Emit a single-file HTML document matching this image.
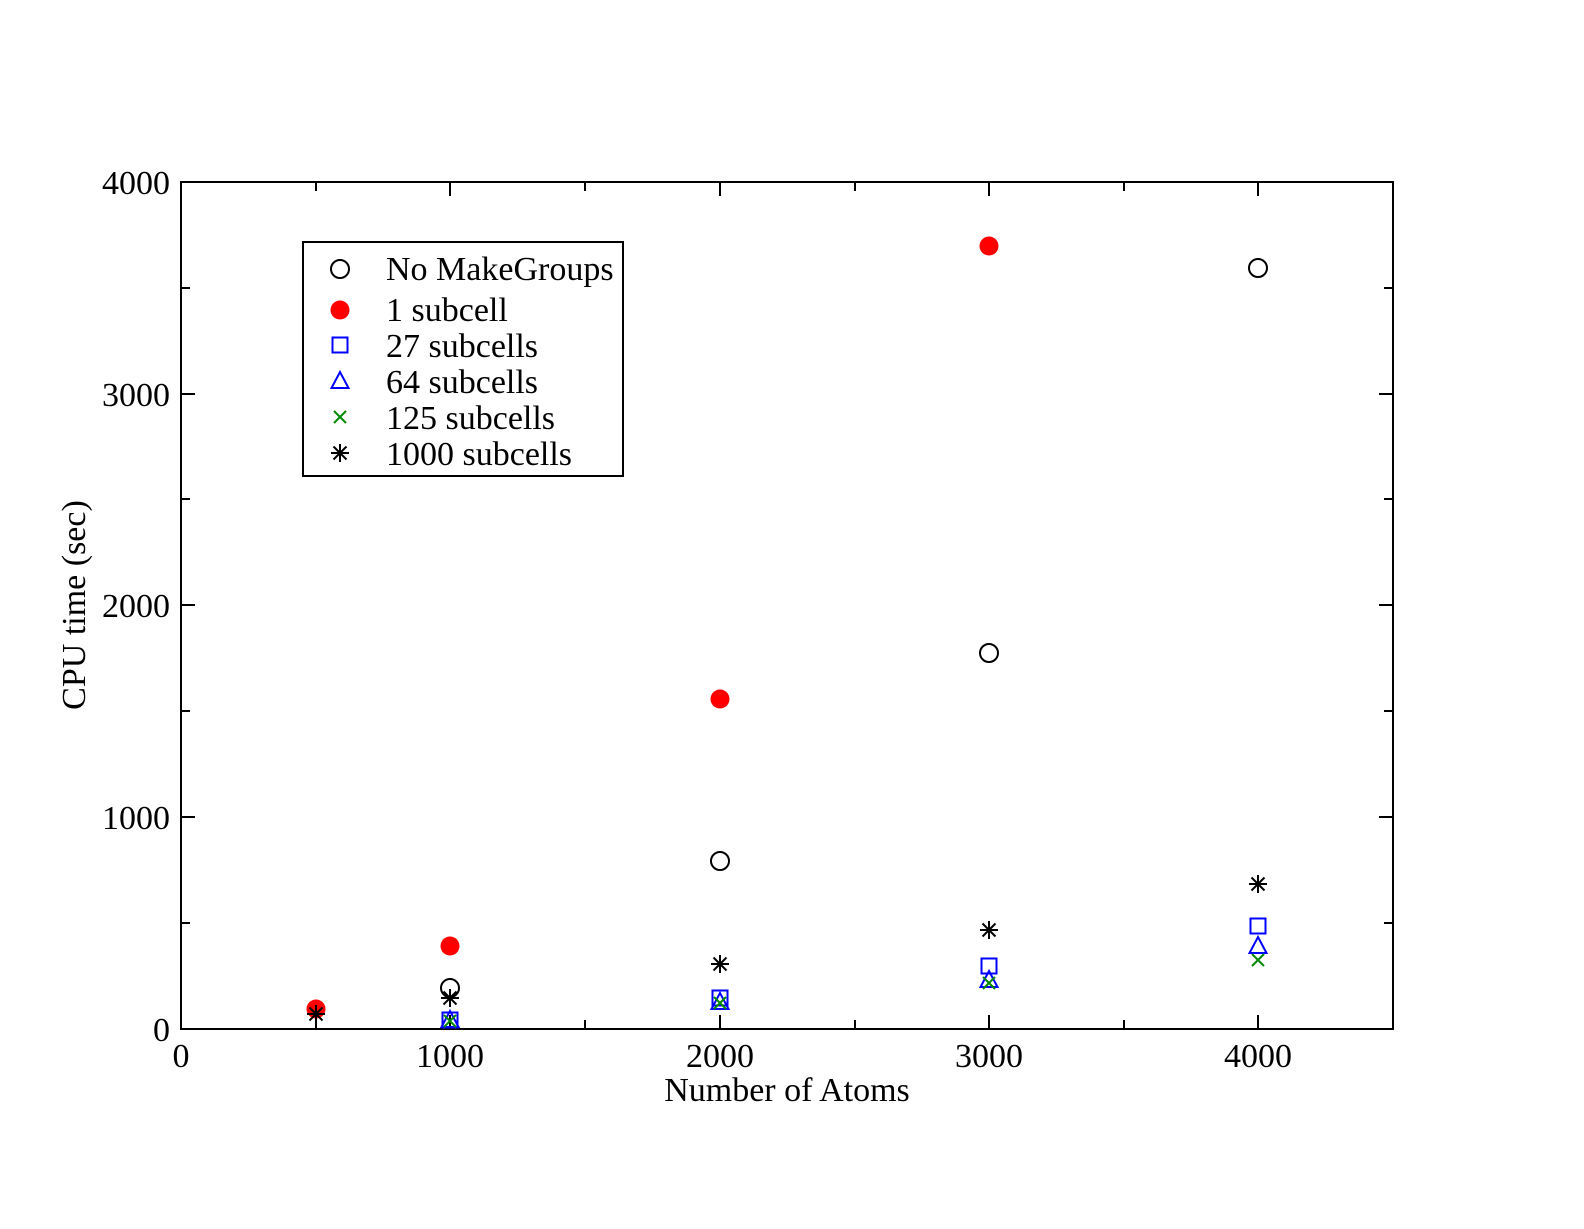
<!DOCTYPE html>
<html><head><style>body{margin:0;background:#fff}</style></head><body>
<svg width="1584" height="1224" xmlns="http://www.w3.org/2000/svg" font-family="Liberation Serif, serif" font-size="34">
<rect width="1584" height="1224" fill="#fff"/>
<rect x="181" y="182" width="1212" height="847" fill="none" stroke="#000" stroke-width="2"/>
<g stroke="#000" stroke-width="2">
<path d="M181 1029v-14M450 1029v-14M720 1029v-14M989 1029v-14M1258 1029v-14M181 182v14M450 182v14M720 182v14M989 182v14M1258 182v14"/>
<path d="M316 1029v-9M585 1029v-9M855 1029v-9M1124 1029v-9M316 182v9M585 182v9M855 182v9M1124 182v9"/>
<path d="M181 1029h14M181 817h14M181 605h14M181 394h14M181 182h14M1393 1029h-14M1393 817h-14M1393 605h-14M1393 394h-14M1393 182h-14"/>
<path d="M181 923h9M181 711h9M181 499h9M181 288h9M1393 923h-9M1393 711h-9M1393 499h-9M1393 288h-9"/>
</g>
<g text-anchor="end">
<text x="170" y="1041">0</text><text x="170" y="829">1000</text><text x="170" y="617">2000</text><text x="170" y="406">3000</text><text x="170" y="194">4000</text>
</g>
<g text-anchor="middle">
<text x="181" y="1067">0</text><text x="450" y="1067">1000</text><text x="720" y="1067">2000</text><text x="989" y="1067">3000</text><text x="1258" y="1067">4000</text>
<text x="787" y="1101">Number of Atoms</text>
<text transform="translate(85,605) rotate(-90)">CPU time (sec)</text>
</g>
<defs>
<g id="st" stroke="#000" stroke-width="2"><path d="M-9 0h18M0 -9v18M-6.5 -6.5l13 13M-6.5 6.5l13 -13"/></g>
<g id="sq"><rect x="-7.5" y="-7.5" width="15" height="15" fill="none" stroke="#00f" stroke-width="2"/></g>
<g id="tr"><path d="M0 -9L8.5 7H-8.5Z" fill="none" stroke="#00f" stroke-width="2"/></g>
<g id="xx" stroke="#080" stroke-width="2"><path d="M-6 -6l12 12M-6 6l12 -12"/></g>
<g id="ci"><circle r="9" fill="none" stroke="#000" stroke-width="2"/></g>
<g id="rd"><circle r="9.5" fill="#f00"/></g>
</defs>
<use href="#rd" x="316" y="1009"/><use href="#st" x="316" y="1014"/>
<use href="#rd" x="450" y="946"/><use href="#ci" x="450" y="988"/><use href="#st" x="450" y="998"/><use href="#sq" x="450" y="1020"/><use href="#tr" x="450" y="1020"/><use href="#xx" x="450" y="1021"/>
<use href="#rd" x="720" y="699"/><use href="#ci" x="720" y="861"/><use href="#st" x="720" y="964"/><use href="#sq" x="720" y="998"/><use href="#tr" x="720" y="1002"/><use href="#xx" x="720" y="1003"/>
<use href="#rd" x="989" y="246"/><use href="#ci" x="989" y="653"/><use href="#st" x="989" y="930"/><use href="#sq" x="989" y="966"/><use href="#tr" x="989" y="980"/><use href="#xx" x="989" y="983"/>
<use href="#ci" x="1258" y="268"/><use href="#st" x="1258" y="884"/><use href="#sq" x="1258" y="926"/><use href="#tr" x="1258" y="946"/><use href="#xx" x="1258" y="960"/>
<rect x="303" y="242" width="320" height="234" fill="#fff" stroke="#000" stroke-width="2"/>
<use href="#ci" x="340" y="269"/><use href="#rd" x="340" y="310"/><use href="#sq" x="340" y="345"/><use href="#tr" x="340" y="381"/><use href="#xx" x="340" y="417"/><use href="#st" x="340" y="453"/>
<text x="386" y="280">No MakeGroups</text>
<text x="386" y="321">1 subcell</text>
<text x="386" y="357">27 subcells</text>
<text x="386" y="393">64 subcells</text>
<text x="386" y="429">125 subcells</text>
<text x="386" y="465">1000 subcells</text>
</svg>
</body></html>
